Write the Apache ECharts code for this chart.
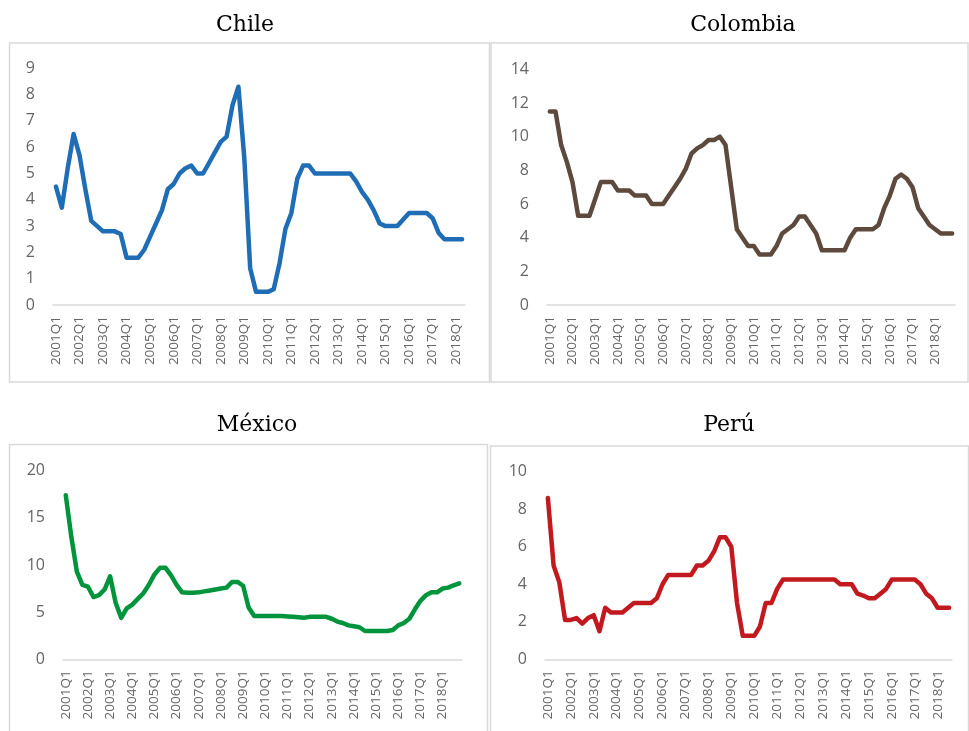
<!DOCTYPE html>
<html>
<head>
<meta charset="utf-8">
<script src="https://cdn.jsdelivr.net/npm/echarts@6/dist/echarts.min.js"></script>
<style>
html,body{margin:0;padding:0;background:#fff;}
#c{width:969px;height:731px;}
</style>
</head>
<body>
<div id="c"></div>
<script>
// ---- data ----
const years = [2001,2002,2003,2004,2005,2006,2007,2008,2009,2010,2011,2012,2013,2014,2015,2016,2017,2018];
const quarterNames = ['Q1','Q2','Q3','Q4'];
const titles = ['Chile','Colombia','México','Perú'];

const chile = [4.5,3.7,5.2,6.5,5.7,4.4,3.2,3.0,2.8,2.8,2.8,2.7,1.8,1.8,1.8,2.1,2.6,3.1,3.6,4.4,
  4.6,5.0,5.2,5.3,5.0,5.0,5.4,5.8,6.2,6.4,7.6,8.3,5.6,1.4,0.5,0.5,0.5,0.6,1.6,2.9,
  3.5,4.8,5.3,5.3,5.0,5.0,5.0,5.0,5.0,5.0,5.0,4.7,4.3,4.0,3.6,3.1,3.0,3.0,3.0,3.25,
  3.5,3.5,3.5,3.5,3.3,2.75,2.5,2.5,2.5,2.5];

const colombia = [11.5,11.5,9.5,8.5,7.3,5.3,5.3,5.3,6.3,7.3,7.3,7.3,6.8,6.8,6.8,6.5,6.5,6.5,6.0,6.0,
  6.0,6.5,7.0,7.5,8.1,9.0,9.3,9.5,9.8,9.8,10.0,9.5,7.0,4.5,4.0,3.5,3.5,3.0,3.0,3.0,
  3.5,4.25,4.5,4.75,5.25,5.25,4.75,4.25,3.25,3.25,3.25,3.25,3.25,4.0,4.5,4.5,4.5,4.5,4.75,5.75,
  6.5,7.5,7.75,7.5,7.0,5.75,5.25,4.75,4.5,4.25,4.25,4.25];

const mexico = [17.4,13.0,9.3,7.9,7.7,6.6,6.8,7.4,8.8,6.0,4.4,5.4,5.8,6.4,7.0,7.9,9.0,9.7,9.7,8.9,
  7.9,7.1,7.05,7.05,7.1,7.2,7.3,7.4,7.5,7.6,8.2,8.2,7.8,5.5,4.6,4.6,4.6,4.6,4.6,4.6,
  4.55,4.5,4.45,4.4,4.5,4.5,4.5,4.5,4.3,4.0,3.85,3.6,3.5,3.4,3.0,3.0,3.0,3.0,3.0,3.1,
  3.6,3.85,4.3,5.3,6.2,6.8,7.1,7.1,7.5,7.6,7.85,8.05];

const peru = [8.6,5.0,4.1,2.1,2.1,2.2,1.9,2.2,2.35,1.5,2.75,2.5,2.5,2.5,2.75,3.0,3.0,3.0,3.0,3.25,
  4.0,4.5,4.5,4.5,4.5,4.5,5.0,5.0,5.25,5.75,6.5,6.5,6.0,3.0,1.25,1.25,1.25,1.75,3.0,3.0,
  3.75,4.25,4.25,4.25,4.25,4.25,4.25,4.25,4.25,4.25,4.25,4.0,4.0,4.0,3.5,3.4,3.25,3.25,3.5,3.75,
  4.25,4.25,4.25,4.25,4.25,4.0,3.5,3.25,2.75,2.75,2.75];

// ---- build ----
const quarters = [];
years.forEach(y => quarterNames.forEach(q => quarters.push(y + q)));

const seriesData = [chile, colombia, mexico, peru];
const colors = ['#1f6db5', '#5e4a3c', '#00943c', '#c2191f'];
const yMax = [9, 14, 20, 10];
const yInterval = [1, 2, 5, 2];
const grids = [
  {left: 53, top: 68.3, width: 412, height: 236.7},
  {left: 547, top: 69.3, width: 408, height: 235.7},
  {left: 63, top: 470.7, width: 399, height: 188.6},
  {left: 545, top: 471.7, width: 407, height: 187.6}
];
const boxes = [
  {x: 9.5, y: 43, w: 480, h: 339},
  {x: 491, y: 43, w: 477, h: 339},
  {x: 9.5, y: 444.5, w: 478, h: 300},
  {x: 490.5, y: 446, w: 478, h: 300}
];
const titlePos = [[245, 25], [743, 25], [257, 425], [729, 425]];

const labelColor = '#666666';
const font = 'Open Sans';

const option = {
  animation: false,
  backgroundColor: '#ffffff',
  grid: grids.map(g => Object.assign({containLabel: false, outerBoundsMode: 'none'}, g)),
  xAxis: seriesData.map((d, i) => ({
    type: 'category',
    gridIndex: i,
    data: quarters.slice(0, d.length),
    boundaryGap: true,
    axisLine: {lineStyle: {color: '#d9d9d9', width: 1.5}},
    axisTick: {show: false},
    axisLabel: {rotate: 90, interval: 3, margin: 11, fontSize: 13.5, color: labelColor, fontFamily: font}
  })),
  yAxis: seriesData.map((d, i) => ({
    type: 'value',
    gridIndex: i,
    min: 0,
    max: yMax[i],
    interval: yInterval[i],
    axisLine: {show: false},
    axisTick: {show: false},
    splitLine: {show: false},
    axisLabel: {margin: 18, fontSize: 16, color: labelColor, fontFamily: font}
  })),
  series: seriesData.map((d, i) => ({
    type: 'line',
    xAxisIndex: i,
    yAxisIndex: i,
    data: d,
    symbol: 'none',
    smooth: false,
    lineStyle: {color: colors[i], width: 4.5, cap: 'round', join: 'round'},
    itemStyle: {color: colors[i]}
  })),
  graphic: [].concat(
    boxes.map(b => ({
      type: 'rect', z: -1, silent: true,
      shape: {x: b.x, y: b.y, width: b.w, height: b.h},
      style: {fill: 'none', stroke: '#d9d9d9', lineWidth: 1.5}
    })),
    titles.map((t, i) => ({
      type: 'text', silent: true,
      x: titlePos[i][0], y: titlePos[i][1],
      style: {text: t, fill: '#000000', font: '22px "DejaVu Serif"', textAlign: 'center', textVerticalAlign: 'middle'}
    }))
  )
};

const chart = echarts.init(document.getElementById('c'), null, {renderer: 'canvas'});
chart.setOption(option);
</script>
</body>
</html>
